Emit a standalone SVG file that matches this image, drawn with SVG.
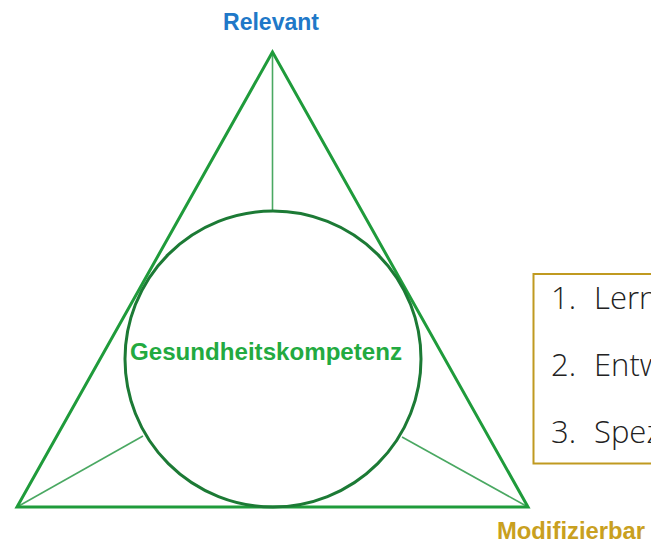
<svg xmlns="http://www.w3.org/2000/svg" width="651" height="542" viewBox="0 0 651 542">
<style>
.lbl{font-family:"Liberation Sans","DejaVu Sans",sans-serif;font-weight:bold;font-size:23px}
.item{font-family:"Open Sans","Liberation Sans",sans-serif;font-weight:300;font-size:31px;fill:#222}
.spoke{stroke:#4aa862;stroke-width:1.6;fill:none}
</style>
<rect width="651" height="542" fill="#fff"/>
<g id="connectors">
<line class="spoke" x1="272.5" y1="52" x2="272.5" y2="211"/>
<line class="spoke" x1="17" y1="507" x2="143" y2="436"/>
<line class="spoke" x1="528" y1="507" x2="402" y2="437"/>
</g>
<g id="triangle">
<polygon points="272.5,52 17,507 528,507" fill="none" stroke="#1f9b3b" stroke-width="3" stroke-linejoin="miter"/>
</g>
<g id="circle">
<circle cx="273" cy="359" r="148" fill="none" stroke="#1c7a35" stroke-width="3"/>
<text class="lbl" x="266" y="360" text-anchor="middle" fill="#22aa40" textLength="272" lengthAdjust="spacingAndGlyphs">Gesundheitskompetenz</text>
</g>
<g id="relevant">
<text class="lbl" x="271" y="30" text-anchor="middle" fill="#2078c8" textLength="96" lengthAdjust="spacingAndGlyphs">Relevant</text>
</g>
<g id="modifizierbar">
<text class="lbl" x="497" y="539" fill="#c9a020" textLength="148" lengthAdjust="spacingAndGlyphs">Modifizierbar</text>
</g>
<g id="list">
<rect x="533.5" y="274" width="130" height="189.5" fill="#fff" stroke="#c09a20" stroke-width="2"/>
<text class="item" x="551" y="309">1.</text>
<text class="item" x="594" y="309">Lern</text>
<text class="item" x="551" y="376">2.</text>
<text class="item" x="594" y="376">Entw</text>
<text class="item" x="551" y="443">3.</text>
<text class="item" x="594" y="443">Spez</text>
</g>
</svg>
